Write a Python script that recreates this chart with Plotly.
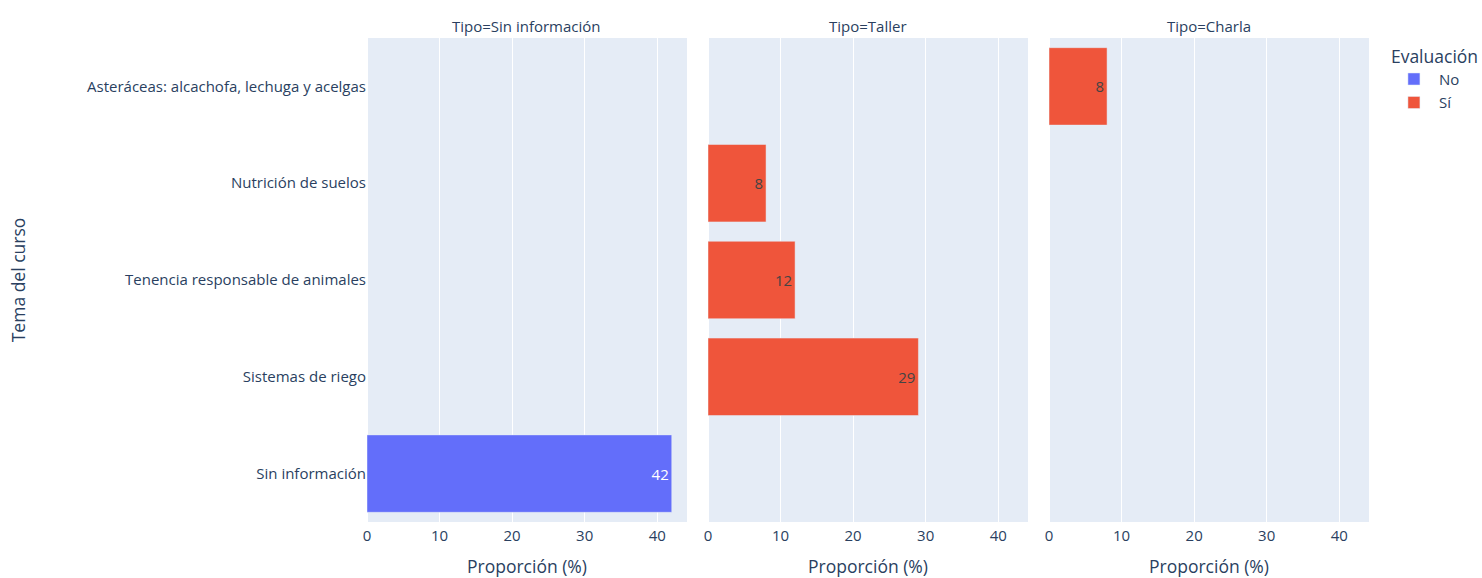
import plotly.graph_objects as go
from plotly.subplots import make_subplots

tipos = ["Sin información", "Taller", "Charla"]
temas = ["Sin información", "Sistemas de riego", "Tenencia responsable de animales",
         "Nutrición de suelos", "Asteráceas: alcachofa, lechuga y acelgas"]
tipo_de_tema = ["Sin información", "Taller", "Taller", "Taller", "Charla"]
evaluacion = ["No", "Sí", "Sí", "Sí", "Sí"]
proporcion = [42, 29, 12, 8, 8]
colores = {"No": "#636EFA", "Sí": "#EF553B"}

FONT = "Open Sans, sans-serif"
BASE = 15
TITLE = 17.5
fig = make_subplots(rows=1, cols=3, shared_yaxes=True, horizontal_spacing=0.021,
                    subplot_titles=["Tipo=" + t for t in tipos])

shown = set()
for ev in ["No", "Sí"]:
    for ci, tp in enumerate(tipos):
        ys = [temas[i] for i in range(len(temas)) if evaluacion[i] == ev and tipo_de_tema[i] == tp]
        xs = [proporcion[i] for i in range(len(temas)) if evaluacion[i] == ev and tipo_de_tema[i] == tp]
        if not ys:
            continue
        fig.add_trace(go.Bar(
            x=xs, y=ys, orientation="h", name=ev, legendgroup=ev,
            showlegend=ev not in shown, marker_color=colores[ev],
            text=xs, textposition="auto", textfont=dict(size=BASE),
            marker_line=dict(width=0.5, color="#E5ECF6"),
        ), row=1, col=ci + 1)
        shown.add(ev)

for c in range(1, 4):
    fig.update_xaxes(range=[0, 44.1], tickvals=[0, 10, 20, 30, 40],
                     title_text="Proporción (%)", title_font=dict(size=TITLE),
                     title_standoff=18, ticklabelstandoff=3,
                     tickfont=dict(size=BASE), automargin=False, row=1, col=c)
fig.update_yaxes(categoryorder="array", categoryarray=temas, tickfont=dict(size=BASE),
                 automargin=False)
fig.update_yaxes(title_text="Tema del curso", title_font=dict(size=TITLE),
                 title_standoff=56, row=1, col=1)

for a in fig.layout.annotations:
    a.font = dict(size=BASE, family=FONT, color="#2a3f5f")

fig.update_layout(
    template="plotly",
    width=1482, height=578,
    margin=dict(l=367, r=113, t=38, b=56),
    font=dict(family=FONT, size=BASE, color="#2a3f5f"),
    barmode="relative",
    bargap=0.2,
    legend=dict(title=dict(text="Evaluación", font=dict(size=TITLE)), font=dict(size=BASE),
                tracegroupgap=1, itemwidth=40,
                xref="container", x=0.9372, xanchor="left",
                y=0.9959, yanchor="top"),
)
fig.write_html("out.html", config={"displayModeBar": False},
               post_script="document.body.style.margin='0';")
